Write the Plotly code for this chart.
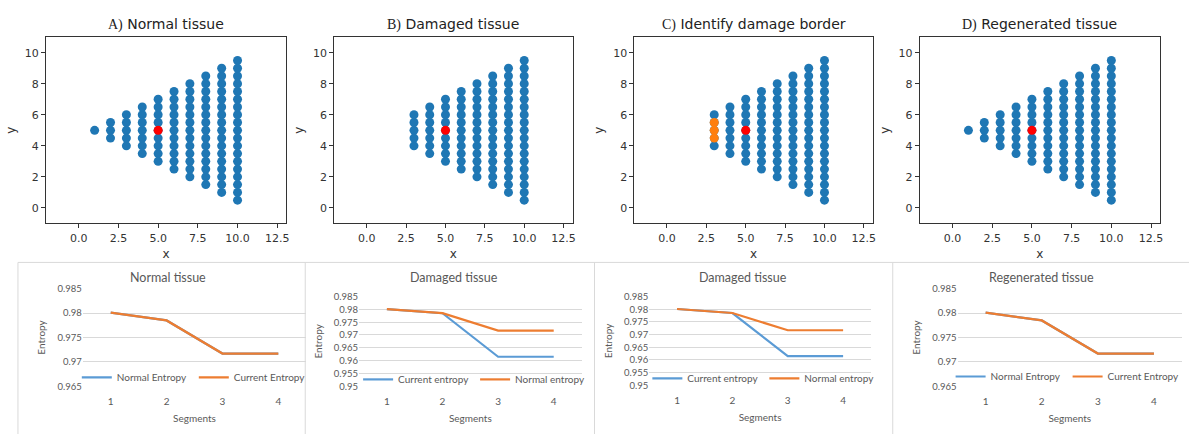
import numpy as np
import plotly.graph_objects as go

# ---------------- data ----------------
# tissue grid: one column of cells per x, spanning y_min..y_max every 0.5
col_x = [1, 2, 3, 4, 5, 6, 7, 8, 9, 10]
col_ymin = [5.0, 4.5, 4.0, 3.5, 3.0, 2.5, 2.0, 1.5, 1.0, 0.5]
col_ymax = [5.0, 5.5, 6.0, 6.5, 7.0, 7.5, 8.0, 8.5, 9.0, 9.5]
cell_step = 0.5
damaged_first_col = 3          # columns x<3 removed in damaged tissue
center_x = [5]
center_y = [5]
border_x = [3, 3, 3]
border_y = [4.5, 5.0, 5.5]

x_tickvals = [0, 2.5, 5, 7.5, 10, 12.5]
x_ticktext = ["0.0", "2.5", "5.0", "7.5", "10.0", "12.5"]
y_tickvals = [0, 2, 4, 6, 8, 10]

segments = [1, 2, 3, 4]
normal_entropy = [0.9801, 0.9785, 0.9717, 0.9717]
damaged_entropy = [0.9801, 0.9785, 0.9615, 0.9615]
regenerated_entropy = [0.9801, 0.9785, 0.9717, 0.9717]

top_letters = ["A)", "B)", "C)", "D)"]
top_titles = ["Normal tissue", "Damaged tissue", "Identify damage border", "Regenerated tissue"]
bottom_titles = ["Normal tissue", "Damaged tissue", "Damaged tissue", "Regenerated tissue"]

# ---------------- helpers ----------------
W, H = 1192, 439
def fx(p): return p / W
def fy(p): return 1 - p / H

gx, gy = [], []
for cx, lo, hi in zip(col_x, col_ymin, col_ymax):
    ys = np.arange(lo, hi + cell_step / 2, cell_step)
    gx += [cx] * len(ys)
    gy += list(ys)
gx = np.array(gx); gy = np.array(gy)
dmask = gx >= damaged_first_col

BLUE_MPL = "#1f77b4"; ORANGE_MPL = "#ff7f0e"
BLUE_XL = "#5b9bd5"; ORANGE_XL = "#ed7d31"
MPL_FONT = "DejaVu Sans"
XL_FONT = "Lato"
XL_TXT = "#595959"

fig = go.Figure()

top_x_dom = [(46, 287), (335, 574), (636, 875), (922, 1163)]
top_y_dom = (32, 223)

panels = [
    (gx, gy, None),
    (gx[dmask], gy[dmask], None),
    (gx[dmask], gy[dmask], (border_x, border_y)),
    (gx, gy, None),
]
for i, (px_, py_, border) in enumerate(panels):
    n = "" if i == 0 else str(i + 1)
    fig.add_trace(go.Scatter(x=px_, y=py_, mode="markers", xaxis="x" + n, yaxis="y" + n,
                             marker=dict(color=BLUE_MPL, size=9, line=dict(width=0)),
                             showlegend=False, hoverinfo="skip"))
    if border is not None:
        fig.add_trace(go.Scatter(x=border[0], y=border[1], mode="markers", xaxis="x" + n, yaxis="y" + n,
                                 marker=dict(color=ORANGE_MPL, size=9, line=dict(width=0)),
                                 showlegend=False, hoverinfo="skip"))
    fig.add_trace(go.Scatter(x=center_x, y=center_y, mode="markers", xaxis="x" + n, yaxis="y" + n,
                             marker=dict(color="red", size=9, line=dict(width=0)),
                             showlegend=False, hoverinfo="skip"))

# bottom line charts
bottom_specs = [
    dict(x=(83, 307), y=(290, 390), yr=(0.965, 0.985),
         series=[("Normal Entropy", normal_entropy, BLUE_XL), ("Current Entropy", regenerated_entropy, ORANGE_XL)],
         leg_x=77, leg_y=381, title_x=168),
    dict(x=(360, 583), y=(298, 390), yr=(0.95, 0.985),
         series=[("Current entropy", damaged_entropy, BLUE_XL), ("Normal entropy", normal_entropy, ORANGE_XL)],
         leg_x=359, leg_y=383, title_x=455),
    dict(x=(651, 873), y=(298, 389), yr=(0.95, 0.985),
         series=[("Current entropy", damaged_entropy, BLUE_XL), ("Normal entropy", normal_entropy, ORANGE_XL)],
         leg_x=649, leg_y=382, title_x=745),
    dict(x=(960, 1185), y=(290, 390), yr=(0.965, 0.985),
         series=[("Normal Entropy", normal_entropy, BLUE_XL), ("Current Entropy", regenerated_entropy, ORANGE_XL)],
         leg_x=953, leg_y=380, title_x=1044),
]
for j, spec in enumerate(bottom_specs):
    n = str(j + 5)
    leg = "legend" if j == 0 else "legend" + str(j + 1)
    for name, vals, col in spec["series"]:
        fig.add_trace(go.Scatter(x=segments, y=vals, mode="lines", name=name, legend=leg,
                                 xaxis="x" + n, yaxis="y" + n,
                                 line=dict(color=col, width=2.2), hoverinfo="skip"))

layout = dict(width=W, height=H, margin=dict(l=0, r=0, t=0, b=0),
              paper_bgcolor="white", plot_bgcolor="white")

for i, (x0, x1) in enumerate(top_x_dom):
    n = "" if i == 0 else str(i + 1)
    layout["xaxis" + n] = dict(domain=[fx(x0), fx(x1)], range=[-2.07, 13.07], anchor="y" + n,
                               tickvals=x_tickvals, ticktext=x_ticktext, ticks="outside", ticklen=4,
                               tickcolor="#333", showline=True, linecolor="#333", linewidth=1, mirror=True,
                               showgrid=False, zeroline=False,
                               tickfont=dict(family=MPL_FONT, size=11, color="#333"),
                               title=dict(text="x", font=dict(family=MPL_FONT, size=12, color="#333"), standoff=5))
    layout["yaxis" + n] = dict(domain=[fy(top_y_dom[1]), fy(top_y_dom[0])], range=[-1, 11], anchor="x" + n,
                               tickvals=y_tickvals, ticks="outside", ticklen=4,
                               tickcolor="#333", showline=True, linecolor="#333", linewidth=1, mirror=True,
                               showgrid=False, zeroline=False,
                               tickfont=dict(family=MPL_FONT, size=11, color="#333"),
                               title=dict(text="y", font=dict(family=MPL_FONT, size=12, color="#333"), standoff=6))

for j, spec in enumerate(bottom_specs):
    n = str(j + 5)
    lo, hi = spec["yr"]
    eps = 1e-5
    layout["xaxis" + n] = dict(domain=[fx(spec["x"][0]), fx(spec["x"][1])], range=[0.5, 4.5], anchor="y" + n,
                               tickvals=segments, ticks="", showline=False, showgrid=False, zeroline=False,
                               ticklabelstandoff=8,
                               tickfont=dict(family=XL_FONT, size=10, color=XL_TXT),
                               title=dict(text="Segments", font=dict(family=XL_FONT, size=10, color=XL_TXT), standoff=8))
    layout["yaxis" + n] = dict(domain=[fy(spec["y"][1]), fy(spec["y"][0])], range=[lo - eps, hi + eps], anchor="x" + n,
                               dtick=0.005, tick0=lo, ticks="", showline=False, showgrid=True,
                               gridcolor="#d9d9d9", gridwidth=1, zeroline=False,
                               tickfont=dict(family=XL_FONT, size=9.5, color=XL_TXT),
                               title=dict(text="Entropy", font=dict(family=XL_FONT, size=10, color=XL_TXT), standoff=9))
    leg = "legend" if j == 0 else "legend" + str(j + 1)
    layout[leg] = dict(x=fx(spec["leg_x"]), y=fy(spec["leg_y"]), xanchor="left", yanchor="middle",
                       orientation="h", bgcolor="rgba(0,0,0,0)", borderwidth=0,
                       font=dict(family=XL_FONT, size=10, color=XL_TXT), entrywidth=72, tracegroupgap=0)

annotations = []
for i, (x0, x1) in enumerate(top_x_dom):
    annotations.append(dict(
        text=f'<span style="font-family:Liberation Serif">{top_letters[i]}</span> {top_titles[i]}',
        x=fx((x0 + x1) / 2), y=fy(19), xref="paper", yref="paper", showarrow=False,
        xanchor="center", yanchor="middle", font=dict(family=MPL_FONT, size=14, color="#222")))
for j, spec in enumerate(bottom_specs):
    annotations.append(dict(text=bottom_titles[j], x=fx(spec["title_x"]), y=fy(278), xref="paper", yref="paper",
                            showarrow=False, xanchor="center", yanchor="middle",
                            font=dict(family=XL_FONT, size=12.5, color=XL_TXT)))
layout["annotations"] = annotations

# chart-box borders of the lower row
shapes = [dict(type="line", xref="paper", yref="paper", x0=fx(18), x1=1, y0=fy(263), y1=fy(263),
               line=dict(color="#d9d9d9", width=1))]
for bx in [18, 306, 596, 895]:
    shapes.append(dict(type="line", xref="paper", yref="paper", x0=fx(bx), x1=fx(bx), y0=0, y1=fy(263),
                       line=dict(color="#d9d9d9", width=1)))
layout["shapes"] = shapes

fig.update_layout(**layout)
fig.write_html("out.html")
